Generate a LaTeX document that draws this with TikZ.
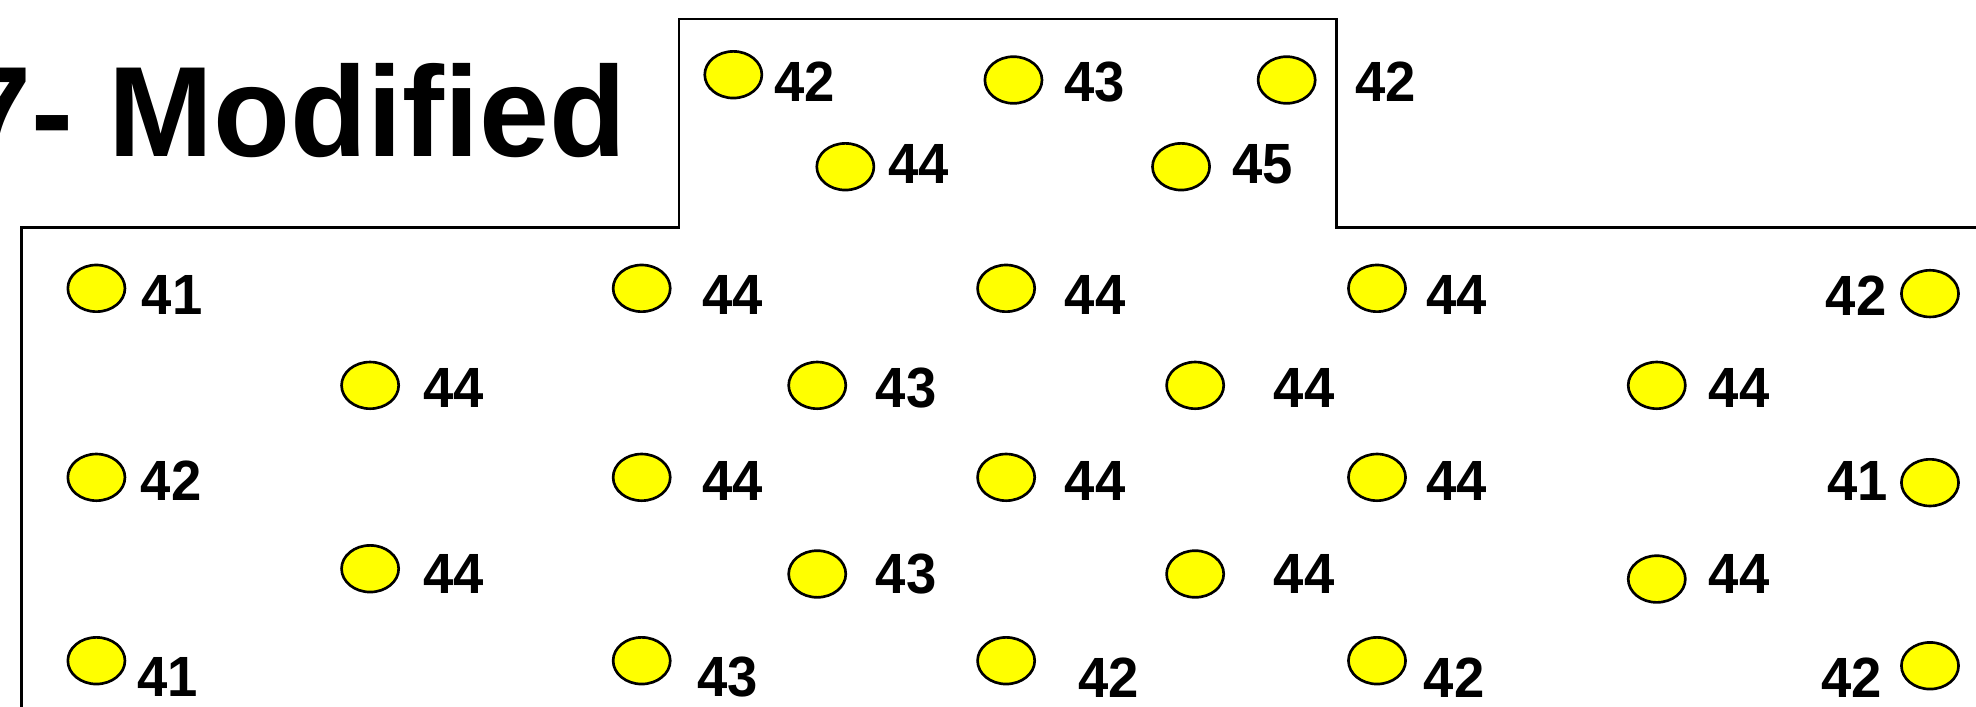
\documentclass[tikz,border=0pt]{standalone}
\usepackage{fontspec}
\setmainfont{Liberation Sans}
\usetikzlibrary{shapes.geometric}
\definecolor{dotyellow}{HTML}{FFFF00}
\begin{document}
\begin{tikzpicture}[x=0.01cm,y=-0.01cm,
  dot/.style={ellipse,draw=black,line width=0.6pt,fill=dotyellow,minimum width=0.453cm,minimum height=0.37cm,inner sep=0pt},
  num/.style={inner sep=0pt,font=\fontsize{12.8}{12.8}\selectfont\bfseries,xscale=0.96},
  outline/.style={draw=black,line width=0.6pt}]
\useasboundingbox (0,0) rectangle (1568,561);
\clip (0,0) rectangle (1568,561);
% outline
\coordinate (o1) at (17,575);
\coordinate (o2) at (17,180.7);
\coordinate (o3) at (538.9,180.7);
\coordinate (o4) at (538.9,15.1);
\coordinate (o5) at (1060.5,15.1);
\coordinate (o6) at (1060.5,180.7);
\coordinate (o7) at (1585,180.7);
\draw[outline] (o1) -- (o2) -- (o3) -- (o4) -- (o5) -- (o6) -- (o7);
% title
\node[anchor=base east,inner sep=0pt,font=\fontsize{29}{29}\selectfont\bfseries,xscale=0.98] (title) at (497.5,124.3) {7- Modified};
% tab
\node[dot] (t1) at (581.9,59.3) {};   \node[num] (tl1) at (638.6,65.2) {42};
\node[dot] (t2) at (804.2,63.5) {};   \node[num] (tl2) at (868.9,65.2) {43};
\node[dot] (t3) at (1021,63.5) {};    \node[num] (tl3) at (1099.7,65.2) {42};
\node[dot] (t4) at (670.8,132.3) {};  \node[num] (tl4) at (728.9,130.5) {44};
\node[dot] (t5) at (937.2,132.3) {};  \node[num] (tl5) at (1002,130.5) {45};
% row 1
\node[dot] (a1) at (76.5,228.8) {};   \node[num] (al1) at (136.6,234) {41};
\node[dot] (a2) at (509.2,228.8) {};  \node[num] (al2) at (581.3,233.8) {44};
\node[dot] (a3) at (798.4,228.8) {};  \node[num] (al3) at (869,233.8) {44};
\node[dot] (a4) at (1092.7,228.8) {}; \node[num] (al4) at (1156.1,233.8) {44};
\node[dot] (a5) at (1531.5,233) {};   \node[num] (al5) at (1472.9,234.5) {42};
% row 2
\node[dot] (b1) at (293.7,305.8) {};  \node[num] (bl1) at (360,307.9) {44};
\node[dot] (b2) at (648.5,305.8) {};  \node[num] (bl2) at (719,307.9) {43};
\node[dot] (b3) at (948.4,305.8) {};  \node[num] (bl3) at (1034.8,307.9) {44};
\node[dot] (b4) at (1314.7,305.8) {}; \node[num] (bl4) at (1380,307.9) {44};
% row 3
\node[dot] (c1) at (76.5,378.8) {};   \node[num] (cl1) at (135.9,381.8) {42};
\node[dot] (c2) at (509.2,378.8) {};  \node[num] (cl2) at (581.3,381.8) {44};
\node[dot] (c3) at (798.4,378.8) {};  \node[num] (cl3) at (869,381.8) {44};
\node[dot] (c4) at (1092.7,378.8) {}; \node[num] (cl4) at (1156.1,381.8) {44};
\node[dot] (c5) at (1531.5,383) {};   \node[num] (cl5) at (1473.9,381.8) {41};
% row 4
\node[dot] (d1) at (293.7,451.3) {};  \node[num] (dl1) at (360,455.3) {44};
\node[dot] (d2) at (648.5,455.5) {};  \node[num] (dl2) at (719,455.6) {43};
\node[dot] (d3) at (948.4,455.5) {};  \node[num] (dl3) at (1034.8,455.3) {44};
\node[dot] (d4) at (1314.7,459.5) {}; \node[num] (dl4) at (1380,455.3) {44};
% row 5
\node[dot] (e1) at (76.5,524.3) {};   \node[num] (el1) at (132.9,537.5) {41};
\node[dot] (e2) at (509.2,524.3) {};  \node[num] (el2) at (577.4,537.5) {43};
\node[dot] (e3) at (798.4,524.3) {};  \node[num] (el3) at (879.8,537.5) {42};
\node[dot] (e4) at (1092.7,524.3) {}; \node[num] (el4) at (1153.8,537.5) {42};
\node[dot] (e5) at (1531.5,528.3) {}; \node[num] (el5) at (1469.4,537.5) {42};
\end{tikzpicture}
\end{document}
